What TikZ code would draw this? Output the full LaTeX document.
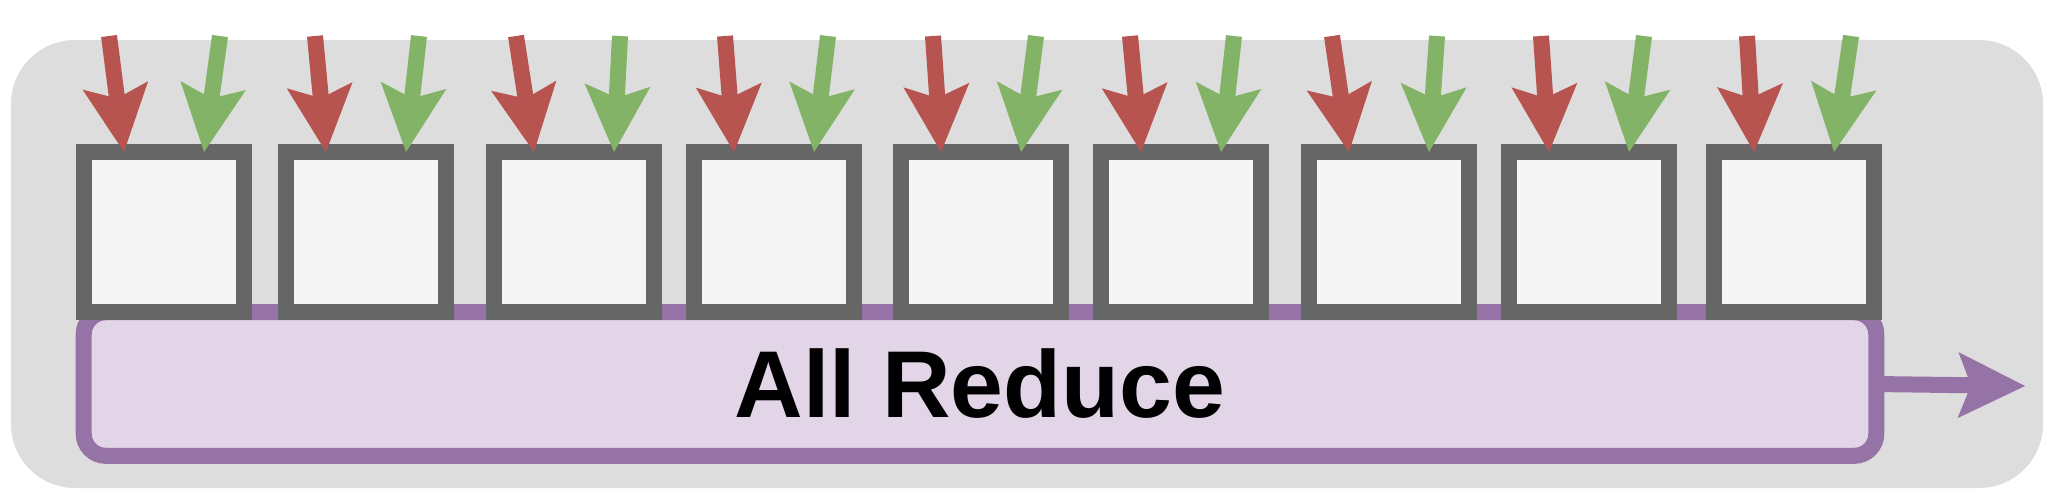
\documentclass[tikz,border=0pt]{standalone}
\usepackage{fontspec}
\setmainfont{Liberation Sans}
\usepackage{tikz}
\usetikzlibrary{arrows.meta,calc}
\definecolor{bggray}{HTML}{DDDDDD}
\definecolor{boxfill}{HTML}{F5F5F5}
\definecolor{boxline}{HTML}{666666}
\definecolor{redline}{HTML}{B85450}
\definecolor{greenline}{HTML}{82B366}
\definecolor{purplefill}{HTML}{E1D5E7}
\definecolor{purpleline}{HTML}{9673A6}
\tikzset{
  gpu/.style={
    draw=boxline,
    fill=boxfill,
    line width=0.16cm,
    minimum width=1.6cm,
    minimum height=1.6cm,
    inner sep=0pt,
    outer sep=0pt,
  },
  reduce/.style={
    draw=purpleline,
    fill=purplefill,
    line width=0.16cm,
    rounded corners=0.22cm,
    minimum width=17.915cm,
    minimum height=1.435cm,
    inner sep=0pt,
    outer sep=0pt,
    font=\fontsize{27pt}{32pt}\selectfont\bfseries,
  },
  fat tip/.style={-{Stealth[length=0.67cm,width=0.66cm,inset=0.13cm,line width=0pt]}},
  grad/.style={line width=0.16cm,fat tip,color=#1},
}

\begin{document}
\begin{tikzpicture}[x=0.01cm,y=-0.01cm]
      \useasboundingbox (0,0) rectangle (2064,496);
      \fill [bggray,rounded corners=0.64cm] (11,40) rectangle (2043,488);

      \node (ar) [reduce] at (980,384) {All Reduce};
      \coordinate (out) at (2025,386);
      \draw [grad=purpleline] (ar.east) -- (out);

      \node (n1) [gpu] at (164,232) {}; \node (n2) [gpu] at (366,232) {};
      \node (n3) [gpu] at (574,232) {}; \node (n4) [gpu] at (774,232) {};
      \node (n5) [gpu] at (981,232) {}; \node (n6) [gpu] at (1181,232) {};
      \node (n7) [gpu] at (1389,232) {}; \node (n8) [gpu] at (1589,232) {};
      \node (n9) [gpu] at (1794,232) {};

      \coordinate (r1) at (109,36); \coordinate (g1) at (220,36);
      \coordinate (r2) at (315,36); \coordinate (g2) at (419,36);
      \coordinate (r3) at (516,36); \coordinate (g3) at (620,36);
      \coordinate (r4) at (725,36); \coordinate (g4) at (828,36);
      \coordinate (r5) at (933,36); \coordinate (g5) at (1036,36);
      \coordinate (r6) at (1130,36); \coordinate (g6) at (1234,36);
      \coordinate (r7) at (1332,36); \coordinate (g7) at (1437,36);
      \coordinate (r8) at (1541,36); \coordinate (g8) at (1644,36);
      \coordinate (r9) at (1747,36); \coordinate (g9) at (1851,36);

      \draw [grad=redline] (r1) -- ($(n1.north west)!.25!(n1.north east)$);
      \draw [grad=greenline] (g1) -- ($(n1.north west)!.75!(n1.north east)$);
      \draw [grad=redline] (r2) -- ($(n2.north west)!.25!(n2.north east)$);
      \draw [grad=greenline] (g2) -- ($(n2.north west)!.75!(n2.north east)$);
      \draw [grad=redline] (r3) -- ($(n3.north west)!.25!(n3.north east)$);
      \draw [grad=greenline] (g3) -- ($(n3.north west)!.75!(n3.north east)$);
      \draw [grad=redline] (r4) -- ($(n4.north west)!.25!(n4.north east)$);
      \draw [grad=greenline] (g4) -- ($(n4.north west)!.75!(n4.north east)$);
      \draw [grad=redline] (r5) -- ($(n5.north west)!.25!(n5.north east)$);
      \draw [grad=greenline] (g5) -- ($(n5.north west)!.75!(n5.north east)$);
      \draw [grad=redline] (r6) -- ($(n6.north west)!.25!(n6.north east)$);
      \draw [grad=greenline] (g6) -- ($(n6.north west)!.75!(n6.north east)$);
      \draw [grad=redline] (r7) -- ($(n7.north west)!.25!(n7.north east)$);
      \draw [grad=greenline] (g7) -- ($(n7.north west)!.75!(n7.north east)$);
      \draw [grad=redline] (r8) -- ($(n8.north west)!.25!(n8.north east)$);
      \draw [grad=greenline] (g8) -- ($(n8.north west)!.75!(n8.north east)$);
      \draw [grad=redline] (r9) -- ($(n9.north west)!.25!(n9.north east)$);
      \draw [grad=greenline] (g9) -- ($(n9.north west)!.75!(n9.north east)$);

    \end{tikzpicture}
\end{document}
